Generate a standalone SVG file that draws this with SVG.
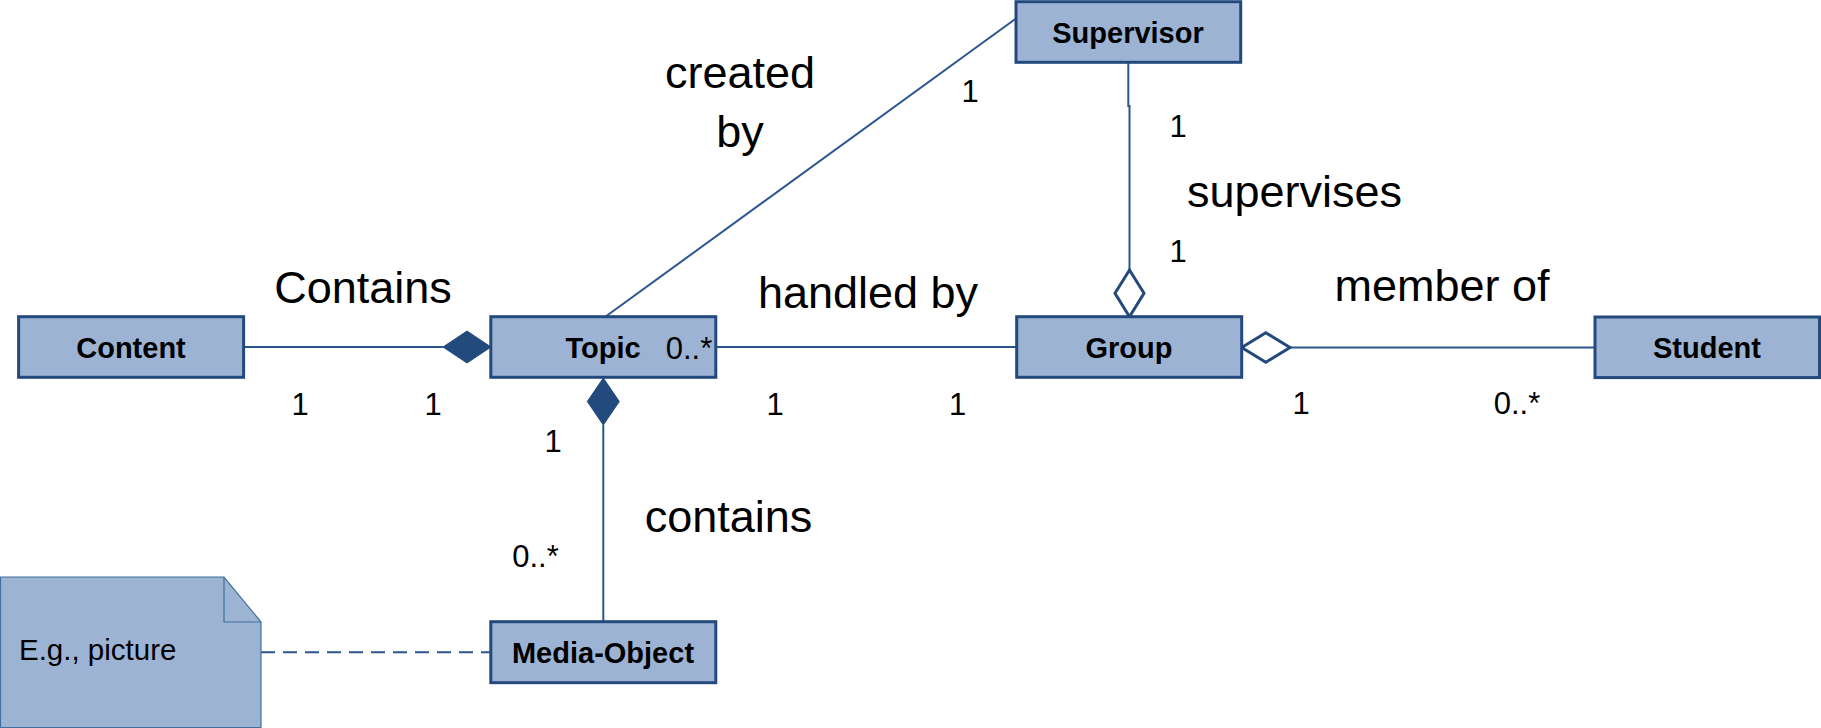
<svg xmlns="http://www.w3.org/2000/svg" width="1821" height="728" viewBox="0 0 1821 728">
<style>
.box{fill:#9cb3d4;stroke:#24497c;stroke-width:3}
.lbl{font-family:"Liberation Sans",Arial,sans-serif;font-weight:bold;font-size:29px;fill:#000;text-anchor:middle}
.big{font-family:"Liberation Sans",Arial,sans-serif;font-size:45px;fill:#000;text-anchor:middle}
.sm{font-family:"Liberation Sans",Arial,sans-serif;font-size:31px;fill:#000;text-anchor:middle}
.ln{fill:none;stroke:#2b5590;stroke-width:2}
.fd{fill:#234a7d;stroke:#234a7d;stroke-width:1}
.od{fill:#fff;stroke:#24497c;stroke-width:3}
</style>
<rect width="1821" height="728" fill="#fff"/>
<g id="connectors">
<line class="ln" x1="244" y1="347" x2="443" y2="347"/>
<polygon class="fd" points="443,347 467,331 491,347 467,363"/>
<line class="ln" x1="716" y1="347" x2="1017" y2="347"/>
<line class="ln" x1="605" y1="317" x2="1016" y2="18.5"/>
<polyline class="ln" points="1128.3,62 1128.3,106 1129.5,106 1129.5,270"/>
<polygon class="od" points="1129.5,270 1144,293.3 1129.5,316.7 1115,293.3"/>
<line class="ln" x1="1290" y1="347.5" x2="1595" y2="347.5"/>
<polygon class="od" points="1241.7,347.5 1265.8,332.7 1290,347.5 1265.8,362.3"/>
<line class="ln" x1="603.3" y1="425" x2="603.3" y2="622"/>
<polygon class="fd" points="603.3,378 619.3,401.5 603.3,425 587.3,401.5"/>
<line class="ln" x1="261" y1="652.3" x2="491" y2="652.3" stroke-dasharray="14,8"/>
</g>
<g id="note">
<polygon points="0.5,577 224,577 261,622 261,727.5 0.5,727.5" fill="#9cb3d4" stroke="#41719c" stroke-width="1.2"/>
<polyline points="224,577 224,622 261,622" fill="none" stroke="#41719c" stroke-width="1.2"/>
<text x="19" y="660" font-family="Liberation Sans,Arial,sans-serif" font-size="29.5" fill="#000">E.g., picture</text>
</g>
<g id="content"><rect class="box" x="18.6" y="316.7" width="225" height="60.6"/><text class="lbl" x="131" y="357.5">Content</text></g>
<g id="topic"><rect class="box" x="490.8" y="316.7" width="225" height="60.6"/><text class="lbl" x="603" y="357.5">Topic</text><text class="sm" x="689" y="358.5">0..*</text></g>
<g id="supervisor"><rect class="box" x="1016" y="1.7" width="224.7" height="60.6"/><text class="lbl" x="1128" y="42.5">Supervisor</text></g>
<g id="group"><rect class="box" x="1016.7" y="316.7" width="225" height="60.6"/><text class="lbl" x="1129" y="357.5">Group</text></g>
<g id="student"><rect class="box" x="1595" y="317" width="224.5" height="60.6"/><text class="lbl" x="1707" y="357.5">Student</text></g>
<g id="mediaobject"><rect class="box" x="490.8" y="621.7" width="225" height="61"/><text class="lbl" x="603" y="662.5">Media-Object</text></g>
<g id="labels">
<text class="big" x="363" y="303">Contains</text>
<text class="big" x="740" y="88">created</text>
<text class="big" x="740" y="147">by</text>
<text class="big" x="868" y="308">handled by</text>
<text class="big" x="1294.5" y="207">supervises</text>
<text class="big" x="1442" y="301">member of</text>
<text class="big" x="728.5" y="532">contains</text>
<text class="sm" x="970" y="102">1</text>
<text class="sm" x="1178" y="137">1</text>
<text class="sm" x="1178" y="262">1</text>
<text class="sm" x="300" y="415">1</text>
<text class="sm" x="433" y="415">1</text>
<text class="sm" x="775" y="415">1</text>
<text class="sm" x="957.5" y="415">1</text>
<text class="sm" x="1301" y="414">1</text>
<text class="sm" x="1517" y="414">0..*</text>
<text class="sm" x="553" y="452">1</text>
<text class="sm" x="535.5" y="567">0..*</text>
</g>
</svg>
